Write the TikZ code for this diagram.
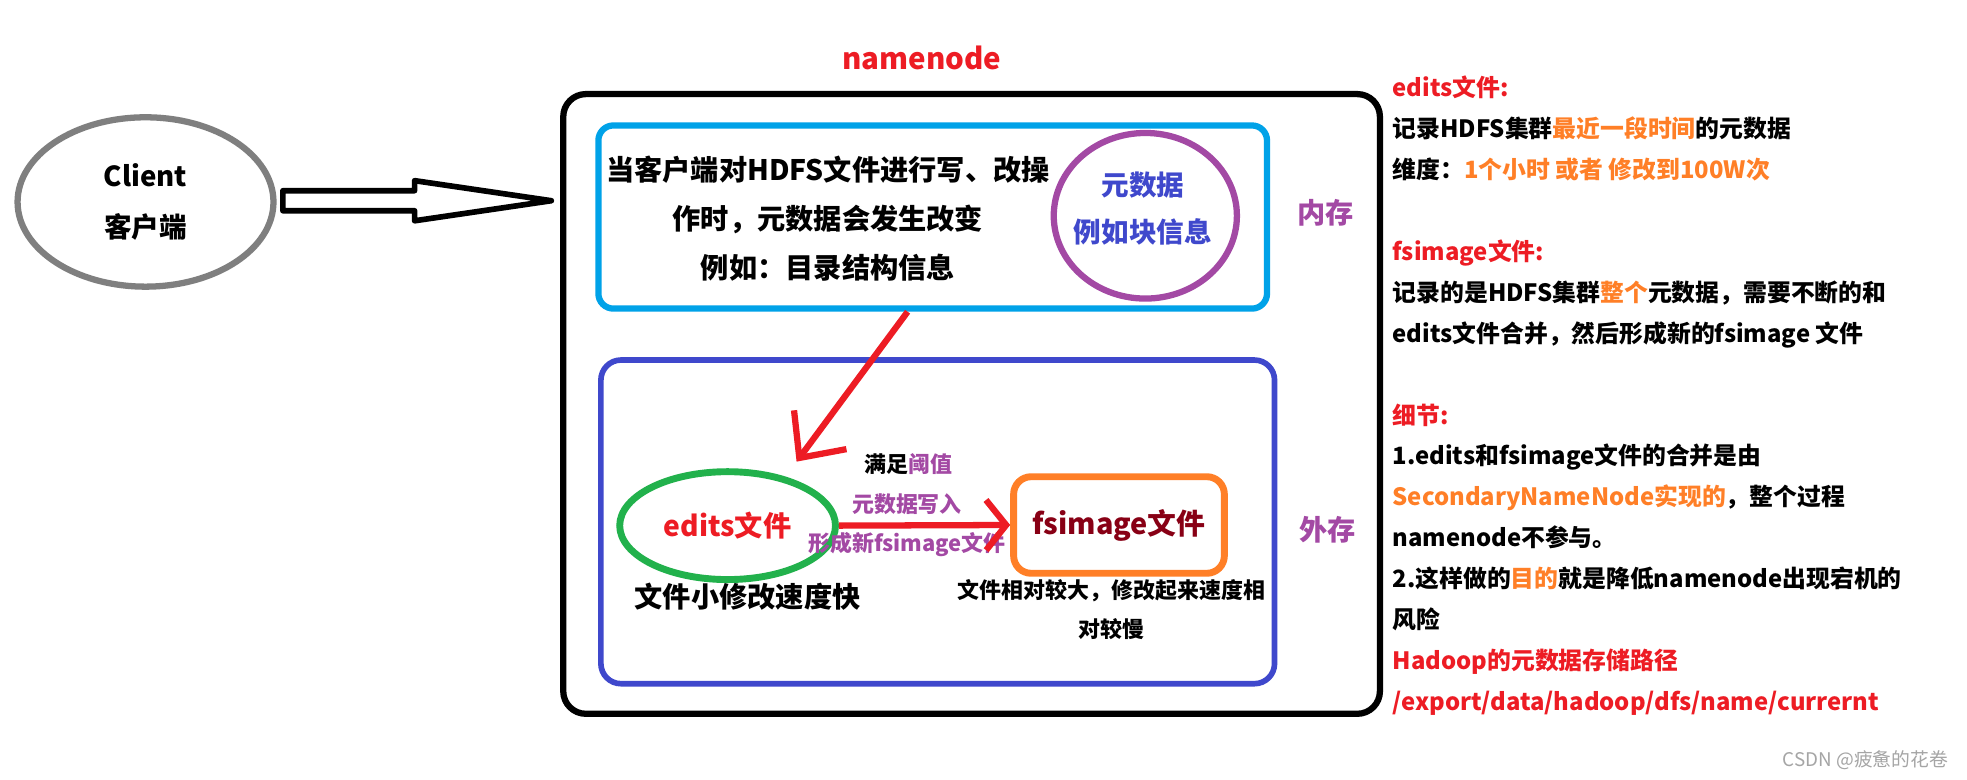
\documentclass[tikz,border=0pt]{standalone}
\usepackage{fontspec}
\setmainfont{Noto Sans CJK SC}
\usepackage{tikz}
\usetikzlibrary{arrows.meta}
\usetikzlibrary{shapes.geometric,calc}
\definecolor{clientgray}{RGB}{127,127,127}
\definecolor{memblue}{RGB}{0,162,232}
\definecolor{metapurple}{RGB}{163,73,164}
\definecolor{diskblue}{RGB}{63,72,204}
\definecolor{flowred}{RGB}{237,28,36}
\definecolor{editsgreen}{RGB}{34,177,76}
\definecolor{fsorange}{RGB}{255,127,39}
\definecolor{fsdarkred}{RGB}{136,0,21}
\definecolor{markgray}{RGB}{165,165,165}

\begin{document}
\begin{tikzpicture}[x=1pt,y=-1pt,
    bigtxt/.style={font=\bfseries\fontsize{22.5}{39}\selectfont},
    smalltxt/.style={font=\bfseries\fontsize{17.5}{31.5}\selectfont},
    notetxt/.style={font=\bfseries\fontsize{19}{32.6}\selectfont},
    hollowarrow/.style={draw=black,fill=white,line width=4.5pt,line join=round},
    flowarrow/.style={draw=flowred,line width=5pt}]
    \useasboundingbox (0,0) rectangle (1568,621);
    \fill[white] (0,0) rectangle (1568,621);
    \node[draw=clientgray,line width=5pt,ellipse,minimum width=204pt,
      minimum height=135pt,bigtxt,align=center,
      font=\bfseries\fontsize{22}{41}\selectfont] (client) at (116,161)
      {Client\\客户端};
    \node[draw,line width=5pt,rounded corners=18pt,minimum width=651pt,
      minimum height=494pt] (nnbox) at (774.5,322) {};
    \node[font=\bfseries\fontsize{23.5}{28}\selectfont,text=flowred]
      (nnlabel) at (735,46) {namenode};
    \coordinate (hatail) at ($(client.east)+(5,-1)$);
    \coordinate (hatip) at ($(nnbox.west |- hatail)+(-7,0)$);
    \draw[hollowarrow] ($(hatail)+(0,-8)$) -- ($(hatip)+(-109,-8)$)
      -- ($(hatip)+(-109,-16)$) -- (hatip) -- ($(hatip)+(-109,16)$)
      -- ($(hatip)+(-109,8)$) -- ($(hatail)+(0,8)$) -- cycle;
    \node[draw=memblue,line width=5pt,rounded corners=12pt,minimum width=533pt,
      minimum height=146pt] (membox) at (743.5,173) {};
    \node[bigtxt,align=center] (memtext) at (660,174)
      {当客户端对HDFS文件进行写、改操\\作时，元数据会发生改变\\例如：目录结构信息};
    \node[draw=metapurple,line width=5pt,ellipse,minimum width=146pt,
      minimum height=132pt] (meta) at (913,172) {};
    \node[align=center,text=diskblue,
      font=\bfseries\fontsize{22}{37.5}\selectfont] (metatext) at (911,166)
      {元数据\\例如块信息};
    \node[bigtxt,text=metapurple] (memlabel) at (1057,170) {内存};
    \node[draw=diskblue,line width=4.5pt,rounded corners=16pt,minimum width=537pt,
      minimum height=258pt] (diskbox) at (747.5,416) {};
    \node[draw=editsgreen,line width=5.5pt,ellipse,minimum width=172pt,
      minimum height=86pt,bigtxt,text=flowred] (edits) at (580,419) {edits文件};
    \node[bigtxt] (editsnote) at (596,476) {文件小修改速度快};
    \node[draw=fsorange,line width=5.5pt,rounded corners=14pt,minimum width=168pt,
      minimum height=77pt,text=fsdarkred,
      font=\bfseries\fontsize{23}{28}\selectfont] (fsimage) at (892,418.5)
      {fsimage文件};
    \node[smalltxt,align=center] (fsnote) at (886,486)
      {文件相对较大，修改起来速度相\\对较慢};
    \node[smalltxt] (cond) at (724,370) {满足\textcolor{metapurple}{阈值}};
    \node[smalltxt,text=metapurple] (write) at (723,402) {元数据写入};
    \node[smalltxt,text=metapurple] (newimg) at (723,434) {形成新fsimage文件};
    \node[bigtxt,text=metapurple] (disklabel) at (1058,422) {外存};
    \coordinate (edtip) at (635,368);
    \draw[flowarrow,-{Straight Barb[length=28pt,width=52pt]}]
      ($(membox.south)+(-20,0)$) -- (edtip);
    \draw[flowarrow,-{Straight Barb[length=16pt,width=40pt]}]
      (edits.east) -- (fsimage.west);
    \node[notetxt,align=left,anchor=north west,inner sep=0pt] (notes)
      at (1110,60.5) {\textcolor{flowred}{edits文件:}\\
      记录HDFS集群\textcolor{fsorange}{最近一段时间}的元数据\\
      维度：\textcolor{fsorange}{1个小时 或者 修改到100W次}\\[32.6pt]%
      \textcolor{flowred}{fsimage文件:}\\
      记录的是HDFS集群\textcolor{fsorange}{整个}元数据，需要不断的和\\
      edits文件合并，然后形成新的fsimage 文件\\[32.6pt]%
      \textcolor{flowred}{细节:}\\
      1.edits和fsimage文件的合并是由\\
      \textcolor{fsorange}{SecondaryNameNode实现的}，整个过程\\
      namenode不参与。\\
      2.这样做的\textcolor{fsorange}{目的}就是降低namenode出现宕机的\\
      风险\\
      \textcolor{flowred}{Hadoop的元数据存储路径}\\
      \textcolor{flowred}{/export/data/hadoop/dfs/name/currernt}};
    \node[font=\fontsize{15}{18}\selectfont,text=markgray] (mark)
      at (1487,606) {CSDN @疲惫的花卷};
\end{tikzpicture}
\end{document}
